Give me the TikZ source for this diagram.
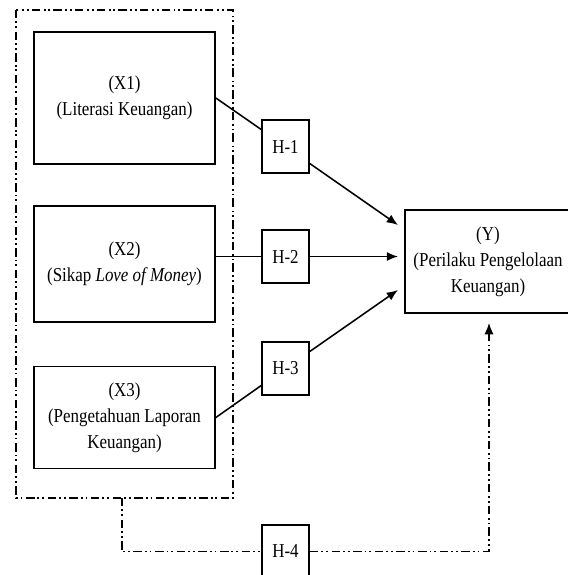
\documentclass[tikz,border=0pt]{standalone}
\usepackage{fontspec}
\setmainfont{Liberation Serif}[FakeStretch=0.86]
\usetikzlibrary{arrows.meta}

\begin{document}
\begin{tikzpicture}[x=0.025cm, y=-0.025cm,
	box/.style={draw, line width=1.2pt, align=center, inner sep=0pt, font=\fontsize{14}{18.5}\selectfont},
	xbox/.style={box, minimum width=4.525cm},
	hbox/.style={box, minimum width=1.175cm, minimum height=1.325cm},
	dd/.style={line width=1pt, dash pattern=on 6pt off 2.1pt on 1.3pt off 2.1pt on 1.3pt off 2.6pt},
	arr/.style={line width=1.1pt, -{Latex[length=8pt,width=6.5pt]}}]
	\useasboundingbox (0,0) rectangle (568,575);
	\clip (0,0) rectangle (568,575);

	% Variabel X
	\draw [dd] (16,10) rectangle (233,498);
	\coordinate (gbot) at (122,498);
	\node [xbox, minimum height=3.3cm] (X1) at (124.5,98) {(X1)\\(Literasi Keuangan)};
	\node [xbox, minimum height=2.9cm] (X2) at (124.5,264) {(X2)\\(Sikap \textit{Love of Money})};
	\node [xbox, minimum height=2.55cm] (X3) at (124.5,417.5) {(X3)\\(Pengetahuan Laporan\\Keuangan)};

	% Variabel Y
	\node [box, minimum width=4.15cm, minimum height=2.575cm] (Y) at (488,261.5) {(Y)\\(Perilaku Pengelolaan\\Keuangan)};
	\coordinate (y1) at (398,225);
	\coordinate (y2) at (398,256.5);
	\coordinate (y3) at (398,290);
	\coordinate (y4) at (489,323);

	% Hipotesis
	\node [hbox] (H1) at (285.5,146.5) {H-1};
	\node [hbox] (H2) at (285.5,256.5) {H-2};
	\node [hbox] (H3) at (285.5,368.5) {H-3};
	\node [hbox] (H4) at (285.5,551.5) {H-4};

	\draw [line width=1.1pt] (X1.east) -- (H1.145);
	\draw [arr] (H1.-35) -- (y1);
	\draw [line width=1.1pt] (X2.east |- H2.west) -- (H2.west);
	\draw [arr] (H2.east) -- (y2);
	\draw [line width=1.1pt] (X3.east) -- (H3.215);
	\draw [arr] (H3.35) -- (y3);

	\draw [dd] (gbot) |- (H4.west);
	\draw [dd, -{Latex[length=8pt,width=6.5pt]}] (H4.east) -| (y4);
\end{tikzpicture}
\end{document}
